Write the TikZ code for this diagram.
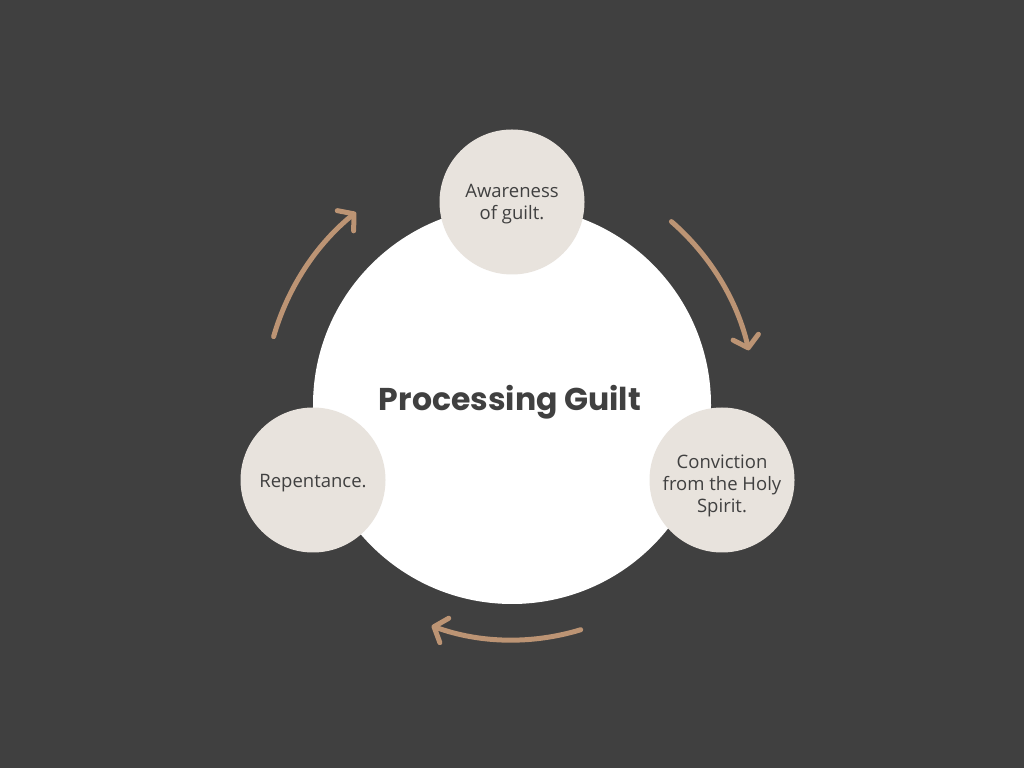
\documentclass[tikz,border=0pt]{standalone}
\usepackage{fontspec}
\setmainfont{Open Sans}
\newfontfamily\titlefont{Poppins}
\usetikzlibrary{arrows.meta, calc}
\definecolor{bgdark}{RGB}{64,64,64}
\definecolor{sand}{RGB}{232,227,221}
\definecolor{clay}{RGB}{188,148,116}
\definecolor{inkgrey}{RGB}{64,64,64}

\begin{document}
\begin{tikzpicture}[x=1pt, y=1pt,
    bigdisc/.style={circle, fill=white, minimum size=398pt, inner sep=0pt},
    stage/.style={circle, fill=sand, minimum size=145pt, inner sep=0pt, align=center,
        text=inkgrey, font=\fontsize{18.5}{22}\selectfont},
    cyclearrow/.style={clay, line width=5pt, line cap=round,
        -{Straight Barb[length=11pt, width=26pt, line cap=round, line join=round]}}]
    \fill[bgdark] (0,0) rectangle (1024,768);
    \useasboundingbox (0,0) rectangle (1024,768);

    \node[bigdisc] at (512, 363) (core) {};
    \node[font=\titlefont\bfseries\fontsize{31.5}{36}\selectfont, text=inkgrey] at (510, 366) (title) {Processing Guilt};

    % stage circles, text nudged to sit like the original
    \node[stage] at (512, 566) (aware) {};
    \node[stage] at (722, 288) (convict) {};
    \node[stage] at (313, 288) (repent) {};
    \node[align=center, text=inkgrey, font=\fontsize{18.5}{22}\selectfont] at ([yshift=-2]aware.center) (awaretext) {Awareness\\of guilt.};
    \node[align=center, text=inkgrey, font=\fontsize{18.5}{22}\selectfont] at ([yshift=-6]convict.center) (convicttext) {Conviction\\from the Holy\\Spirit.};
    \node[align=center, text=inkgrey, font=\fontsize{18.5}{22}\selectfont] at ([yshift=-3]repent.center) (repenttext) {Repentance.};

    % arcs around the centre
    \coordinate (lstart) at ($(core)+(164:248)$);
    \coordinate (rstart) at ($(core)+(49:243)$);
    \coordinate (bstart) at ($(core)+(-73:235)$);
    \draw[cyclearrow] (lstart) arc[start angle=164, end angle=129, radius=248];
    \draw[cyclearrow] (rstart) arc[start angle=49, end angle=13, radius=243];
    \draw[cyclearrow] (bstart) arc[start angle=-73, end angle=-110, radius=235];
\end{tikzpicture}
\end{document}
